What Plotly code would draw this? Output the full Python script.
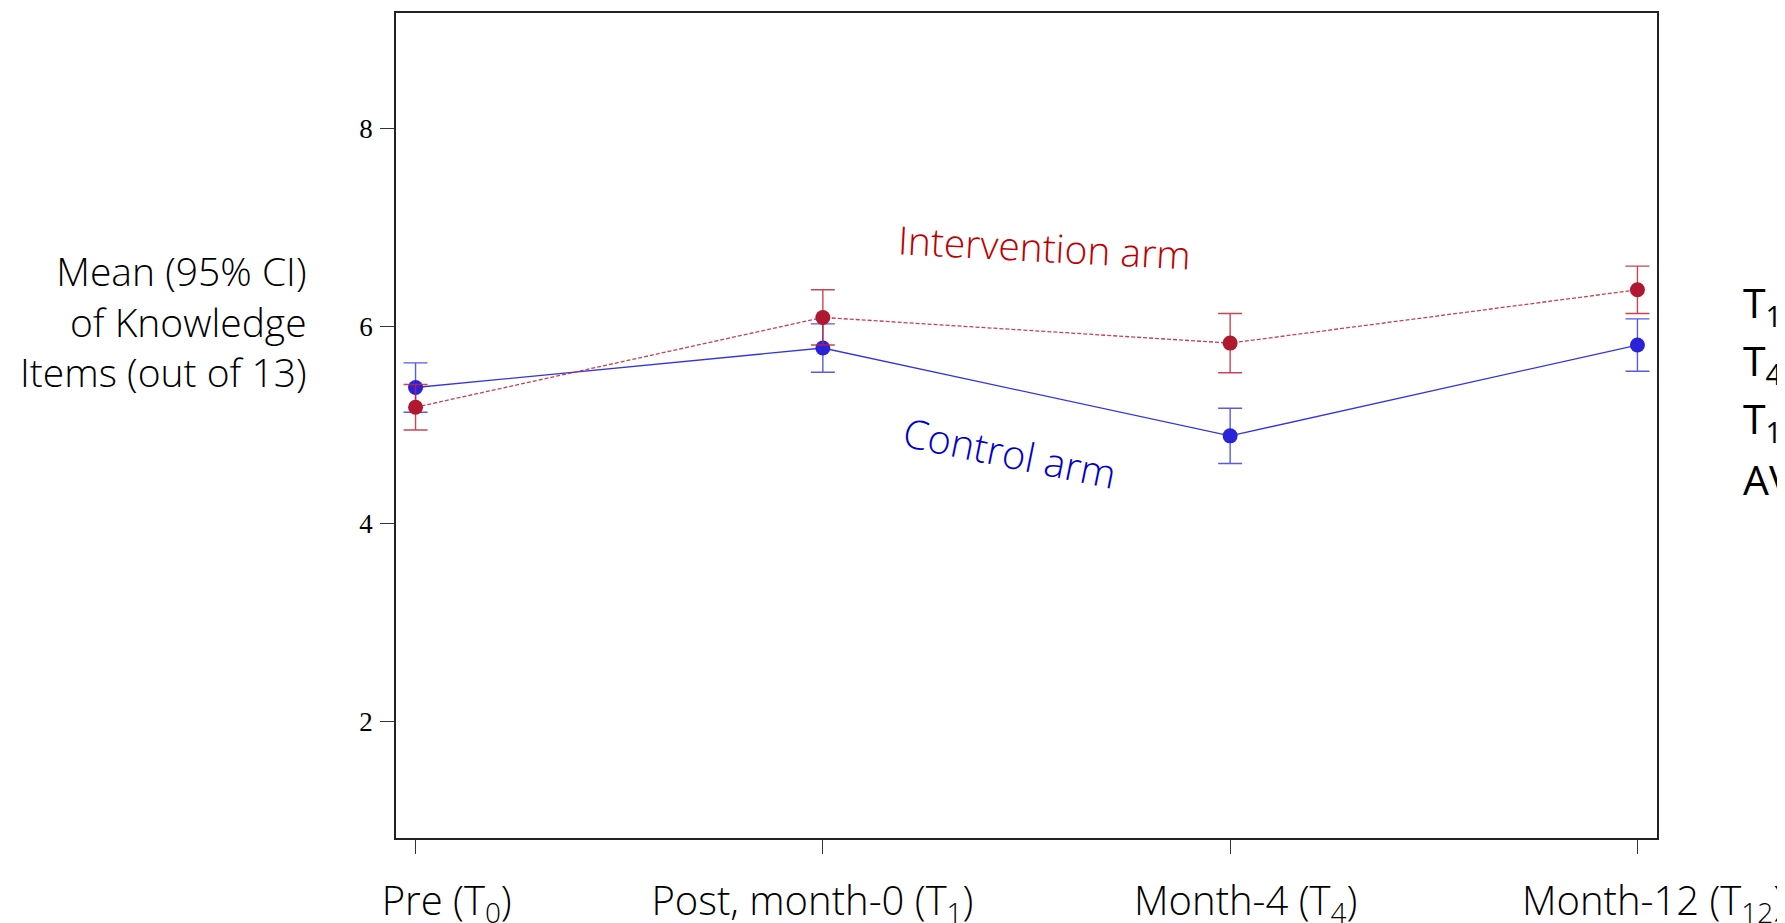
import plotly.graph_objects as go

NB = "\u00a0"
categories = [NB * 6 + "Pre (T<sub>0</sub>)",
              "Post, month-0 (T<sub>1</sub>)" + NB * 2,
              NB * 3 + "Month-4 (T<sub>4</sub>)",
              NB * 3 + "Month-12 (T<sub>12</sub>)"]
x_pos = [0, 1, 2, 3]

control_mean = [5.38, 5.78, 4.89, 5.81]
control_err = [0.25, 0.245, 0.28, 0.265]
intervention_mean = [5.18, 6.09, 5.83, 6.37]
intervention_err = [0.23, 0.28, 0.30, 0.24]

y_ticks = [2, 4, 6, 8]
side_lines = ["T<sub>1</sub>", "T<sub>4</sub>", "T<sub>1</sub>", "AV"]

LIGHT = "Open Sans"

W, H = 1777, 915
L, T = 388, 5
PW, PH = 1261, 825

fig = go.Figure()
fig.add_trace(go.Scatter(
    x=x_pos, y=control_mean, mode="lines+markers",
    line=dict(color="#3535e0", width=1.3),
    marker=dict(color="#2a22d8", size=15),
    error_y=dict(type="data", array=control_err, color="rgba(60,60,230,0.85)", thickness=1.4, width=12),
    showlegend=False))
fig.add_trace(go.Scatter(
    x=x_pos, y=intervention_mean, mode="lines+markers",
    line=dict(color="#c8404f", width=1.3, dash="4px,2px"),
    marker=dict(color="#b01830", size=15),
    error_y=dict(type="data", array=intervention_err, color="rgba(195,35,55,0.85)", thickness=1.4, width=12),
    showlegend=False))

fig.update_xaxes(
    range=[-0.048, 3.048], tickvals=x_pos, ticktext=categories,
    showline=True, mirror=True, linecolor="#222", linewidth=1.5,
    ticks="outside", ticklen=14, tickcolor="#333", tickwidth=1,
    showgrid=False, zeroline=False, automargin=False,
    tickfont=dict(family=LIGHT, size=40, color="black", weight=300),
    ticklabelstandoff=13)
fig.update_yaxes(
    range=[0.815, 9.175], tickvals=y_ticks, ticktext=[str(v) for v in y_ticks],
    showline=True, mirror=True, linecolor="#222", linewidth=1.5,
    ticks="outside", ticklen=14, tickcolor="#333", tickwidth=1,
    showgrid=False, zeroline=False, automargin=False,
    tickfont=dict(family="Liberation Serif", size=27, color="black"),
    ticklabelstandoff=2)

fig.add_annotation(
    xref="paper", yref="paper", x=-0.069, y=0.627, xanchor="right", yanchor="middle",
    text="Mean (95% CI)<br>of Knowledge<br>Items (out of 13)", align="right", showarrow=False,
    font=dict(family=LIGHT, size=39, color="black", weight=300))

fig.add_annotation(
    x=1.545, y=6.81, text="Intervention arm", showarrow=False, textangle=3,
    font=dict(family=LIGHT, size=39, color="#c00000", weight=300))
fig.add_annotation(
    x=1.46, y=4.72, text="Control arm", showarrow=False, textangle=11.5,
    font=dict(family=LIGHT, size=40, color="#0000cc", weight=300))

side_y = [296.5, 354.5, 412.5, 470.5]
for txt, py in zip(side_lines, side_y):
    fig.add_annotation(
        xref="paper", yref="paper", x=(1733 - L) / PW, y=(T + PH - py) / PH,
        xanchor="left", yanchor="middle", text=txt, showarrow=False,
        font=dict(family="Open Sans", size=41, color="black"))

fig.update_layout(
    width=W, height=H,
    margin=dict(l=L, r=W - L - PW, t=T, b=H - T - PH, autoexpand=False),
    paper_bgcolor="white", plot_bgcolor="white")

fig.write_html("out.html")
